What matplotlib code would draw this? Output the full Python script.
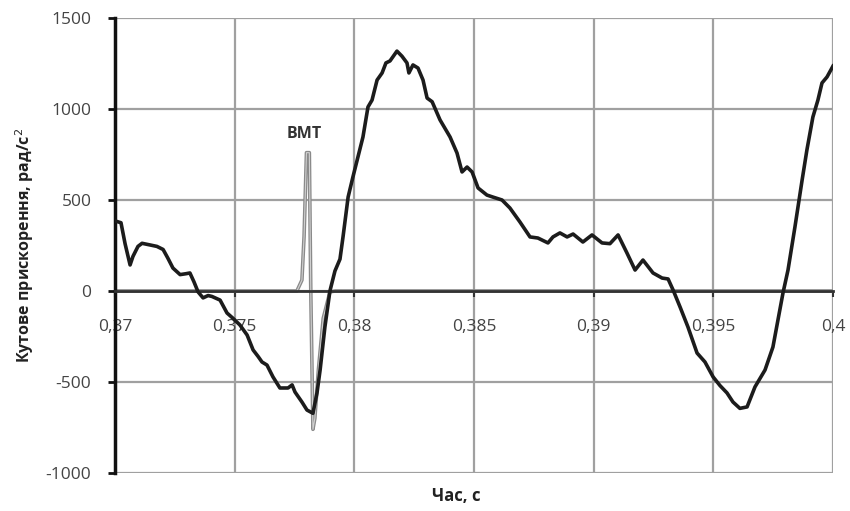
#!/usr/bin/env python3
# plot.py - angular acceleration of the crankshaft vs time, with TDC (ВМТ) marker.
import matplotlib
matplotlib.use("Agg")
import matplotlib.pyplot as plt
from matplotlib.ticker import FuncFormatter

# time, s
t = [0.37000, 0.37025, 0.37042, 0.37063, 0.37075, 0.37096, 0.37113, 0.37146,
     0.37175, 0.37201, 0.37221, 0.37242, 0.37272, 0.37297, 0.37313, 0.37330,
     0.37347, 0.37368, 0.37389, 0.37405, 0.37439, 0.37468, 0.37493, 0.37522,
     0.37552, 0.37577, 0.37598, 0.37614, 0.37635, 0.37660, 0.37689, 0.37723,
     0.37740, 0.37752, 0.37781, 0.37802, 0.37827, 0.37844, 0.37857, 0.37877,
     0.37898, 0.37919, 0.37940, 0.37953, 0.37974, 0.37994, 0.38015, 0.38036,
     0.38057, 0.38074, 0.38095, 0.38116, 0.38132, 0.38149, 0.38178, 0.38199,
     0.38220, 0.38228, 0.38245, 0.38266, 0.38287, 0.38304, 0.38325, 0.38358,
     0.38400, 0.38429, 0.38450, 0.38471, 0.38492, 0.38517, 0.38554, 0.38579,
     0.38617, 0.38650, 0.38692, 0.38734, 0.38767, 0.38809, 0.38830, 0.38859,
     0.38889, 0.38914, 0.38955, 0.38993, 0.39035, 0.39068, 0.39102, 0.39139,
     0.39173, 0.39206, 0.39248, 0.39286, 0.39311, 0.39332, 0.39361, 0.39394,
     0.39432, 0.39465, 0.39499, 0.39528, 0.39557, 0.39582, 0.39611, 0.39641,
     0.39674, 0.39716, 0.39749, 0.39791, 0.39812, 0.39841, 0.39871, 0.39891,
     0.39916, 0.39937, 0.39954, 0.39975, 0.40000]
# angular acceleration, rad/s^2
eps = [385, 375, 260, 143, 190, 245, 262, 253,
       245, 228, 180, 126, 90, 95, 99, 50,
       -5, -38, -25, -30, -50, -121, -150, -187,
       -242, -324, -360, -390, -407, -472, -533, -533,
       -516, -555, -610, -654, -672, -560, -434, -198,
       0, 110, 175, 300, 516, 626, 736, 846,
       1011, 1049, 1159, 1198, 1253, 1264, 1318, 1290,
       1253, 1198, 1242, 1225, 1159, 1060, 1040, 940,
       846, 758, 654, 681, 654, 566, 527, 516,
       500, 456, 379, 297, 291, 264, 297, 319,
       297, 313, 269, 308, 264, 260, 308, 209,
       115, 170, 99, 71, 66, 5, -88, -198,
       -341, -390, -472, -520, -560, -610, -645, -637,
       -527, -434, -308, -11, 115, 352, 610, 775,
       956, 1049, 1143, 1176, 1236]

# TDC pulse (ВМТ)
t_tdc = [0.3700, 0.3776, 0.37781, 0.37790, 0.37800, 0.37812, 0.37818,
         0.37827, 0.37835, 0.37850, 0.37870, 0.37898, 0.3792, 0.4000]
tdc = [0, 0, 60, 300, 760, 760, 0, -760, -700, -430, -150, -5, 0, 0]

x_ticks = [0.37, 0.375, 0.38, 0.385, 0.39, 0.395, 0.40]
y_ticks = [-1000, -500, 0, 500, 1000, 1500]

plt.rcParams["font.family"] = ["Open Sans", "DejaVu Sans"]
plt.rcParams["axes.unicode_minus"] = False

fig = plt.figure(figsize=(8.5, 5.11), dpi=100)
ax = fig.add_axes([0.1353, 0.0744, 0.98 - 0.1353, 0.9648 - 0.0744])

ax.plot(t_tdc, tdc, color="#8a8a8a", lw=2.6, zorder=3)
ax.plot(t_tdc, tdc, color="#d0d0d0", lw=0.8, zorder=3)
ax.plot(t, eps, color="#1c1c1c", lw=2.6, zorder=4)

ax.set_xlim(0.37, 0.40)
ax.set_ylim(-1000, 1500)
ax.set_xticks(x_ticks)
ax.set_yticks(y_ticks)
ax.xaxis.set_major_formatter(FuncFormatter(lambda v, p: f"{v:g}".replace(".", ",")))
ax.yaxis.set_major_formatter(FuncFormatter(lambda v, p: f"{v:.0f}"))

ax.grid(True, color="#a0a0a0", lw=1.6)
ax.set_axisbelow(True)
for s in ("top", "right"):
    ax.spines[s].set_visible(False)
ax.spines["bottom"].set_position(("data", 0))
ax.spines["bottom"].set_color("#333333")
ax.spines["bottom"].set_linewidth(2)
ax.spines["bottom"].set_zorder(3.5)
ax.spines["left"].set_color("#111111")
ax.spines["left"].set_linewidth(2.5)
ax.spines["left"].set_zorder(3.5)

ax.tick_params(axis="y", direction="out", length=5, width=2, pad=12,
               labelsize=12.5, labelcolor="#444444", color="#111111")
ax.tick_params(axis="x", direction="out", length=4, width=1.5, pad=16,
               labelsize=12.5, labelcolor="#444444", color="#333333")

ax.set_xlabel("Час, с", fontsize=12, fontweight="bold", color="#222222", labelpad=0)
ax.xaxis.set_label_coords(0.475, -0.03)
ax.set_ylabel("Кутове прискорення, рад/с$^2$", fontsize=11.5, fontweight="bold",
              color="#222222")
ax.yaxis.set_label_coords(-0.11, 0.5)

ax.text(0.3779, 860, "ВМТ", fontsize=11.5, fontweight="bold", color="#333333",
        ha="center", va="center")

fig.savefig("out.png", dpi=100)
